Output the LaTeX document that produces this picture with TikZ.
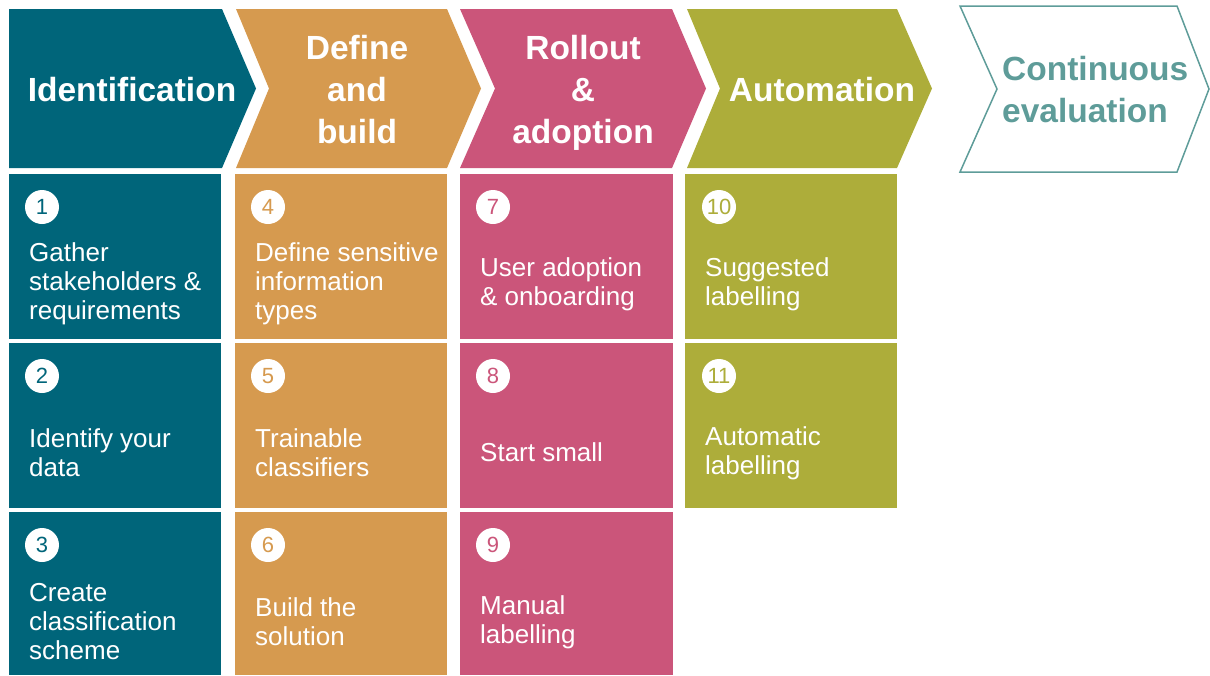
\documentclass[tikz,border=0pt]{standalone}
\usepackage{fontspec}
\setmainfont{Liberation Sans}
\definecolor{cteal}{RGB}{0,101,122}
\definecolor{corange}{RGB}{214,154,79}
\definecolor{cpink}{RGB}{203,85,122}
\definecolor{colive}{RGB}{173,173,58}
\definecolor{cgray}{RGB}{94,156,153}
\begin{document}
\begin{tikzpicture}[x=1pt,y=-1pt,
  hdr/.style={text=white,font=\bfseries\fontsize{33.5}{42}\selectfont,align=center,inner sep=0},
  bodytext/.style={text=white,font=\fontsize{26}{29}\selectfont,align=left,anchor=west,inner sep=0},
  numcirc/.style={circle,fill=white,minimum size=34pt,inner sep=0,font=\fontsize{22}{22}\selectfont}]
\useasboundingbox (0,0) rectangle (1210,675);
% header chevrons
\fill[cteal] (9,9) -- (222,9) -- (256,88.5) -- (222,168) -- (9,168) -- cycle;
\fill[corange] (236,9) -- (447,9) -- (481,88.5) -- (447,168) -- (236,168) -- (269,88.5) -- cycle;
\fill[cpink] (460,9) -- (672,9) -- (706,88.5) -- (672,168) -- (460,168) -- (495,88.5) -- cycle;
\fill[colive] (687,9) -- (897,9) -- (932,88.5) -- (897,168) -- (687,168) -- (720,88.5) -- cycle;
\draw[cgray,line width=1.5pt,line join=miter] (960,6) -- (1177,6) -- (1209,89) -- (1177,172) -- (960,172) -- (997,89) -- cycle;
\node[hdr] (h1) at (132,90) {Identification};
\node[hdr] (h2) at (357,90) {Define\\and\\build};
\node[hdr] (h3) at (583,93) {Rollout\\\&\\adoption};
\node[hdr] (h4) at (822,90) {Automation};
\node[hdr,text=cgray,align=left,anchor=west] (h5) at (1002,90) {Continuous\\evaluation};
% boxes
\fill[cteal] (9,174) rectangle (221,339);
\fill[cteal] (9,343) rectangle (221,508);
\fill[cteal] (9,512) rectangle (221,675);
\fill[corange] (235,174) rectangle (447,339);
\fill[corange] (235,343) rectangle (447,508);
\fill[corange] (235,512) rectangle (447,675);
\fill[cpink] (460,174) rectangle (673,339);
\fill[cpink] (460,343) rectangle (673,508);
\fill[cpink] (460,512) rectangle (673,675);
\fill[colive] (685,174) rectangle (897,339);
\fill[colive] (685,343) rectangle (897,508);
% number circles
\node[numcirc,text=cteal] (n1) at (42,207) {1};
\node[numcirc,text=cteal] (n2) at (42,376) {2};
\node[numcirc,text=cteal] (n3) at (42,545) {3};
\node[numcirc,text=corange] (n4) at (268,207) {4};
\node[numcirc,text=corange] (n5) at (268,376) {5};
\node[numcirc,text=corange] (n6) at (268,545) {6};
\node[numcirc,text=cpink] (n7) at (493,207) {7};
\node[numcirc,text=cpink] (n8) at (493,376) {8};
\node[numcirc,text=cpink] (n9) at (493,545) {9};
\node[numcirc,text=colive] (n10) at (719,207) {10};
\node[numcirc,text=colive] (n11) at (719,376) {11};
% body texts
\node[bodytext] (t1) at (29,284) {Gather\\stakeholders \&\\requirements};
\node[bodytext] (t2) at (29,453) {Identify your\\data};
\node[bodytext] (t3) at (29,622) {Create\\classification\\scheme};
\node[bodytext] (t4) at (255,284) {Define sensitive\\information\\types};
\node[bodytext] (t5) at (255,453) {Trainable\\classifiers};
\node[bodytext] (t6) at (255,622) {Build the\\solution};
\node[bodytext] (t7) at (480,284) {User adoption\\\& onboarding};
\node[bodytext] (t8) at (480,452) {Start small};
\node[bodytext] (t9) at (480,622) {Manual\\labelling};
\node[bodytext] (t10) at (705,284) {Suggested\\labelling};
\node[bodytext] (t11) at (705,453) {Automatic\\labelling};
\end{tikzpicture}
\end{document}
